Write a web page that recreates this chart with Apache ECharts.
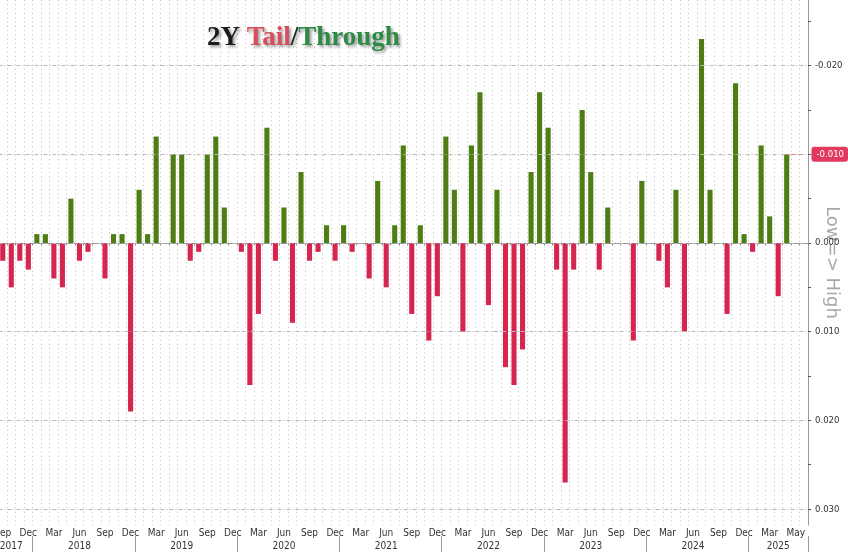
<!DOCTYPE html>
<html>
<head>
<meta charset="utf-8">
<script src="https://cdn.jsdelivr.net/npm/echarts@6/dist/echarts.min.js"></script>
<style>
html,body{margin:0;padding:0;background:#ffffff;}
#chart{width:848px;height:552px;}
</style>
</head>
<body>
<div id="chart"></div>
<script>
// Monthly 2Y auction categories (two trailing empty months give the right-hand margin)
const categories = [
  '2017-09','2017-10','2017-11','2017-12',
  '2018-01','2018-02','2018-03','2018-04','2018-05','2018-06','2018-07','2018-08','2018-09','2018-10','2018-11','2018-12',
  '2019-01','2019-02','2019-03','2019-04','2019-05','2019-06','2019-07','2019-08','2019-09','2019-10','2019-11','2019-12',
  '2020-01','2020-02','2020-03','2020-04','2020-05','2020-06','2020-07','2020-08','2020-09','2020-10','2020-11','2020-12',
  '2021-01','2021-02','2021-03','2021-04','2021-05','2021-06','2021-07','2021-08','2021-09','2021-10','2021-11','2021-12',
  '2022-01','2022-02','2022-03','2022-04','2022-05','2022-06','2022-07','2022-08','2022-09','2022-10','2022-11','2022-12',
  '2023-01','2023-02','2023-03','2023-04','2023-05','2023-06','2023-07','2023-08','2023-09','2023-10','2023-11','2023-12',
  '2024-01','2024-02','2024-03','2024-04','2024-05','2024-06','2024-07','2024-08','2024-09','2024-10','2024-11','2024-12',
  '2025-01','2025-02','2025-03','2025-04','2025-05','2025-06','2025-07'
];

// Tail (+) / stop-through (-), one value per monthly auction
const tailThrough = [
  0.002, 0.005, 0.002, 0.003,
  -0.001, -0.001, 0.004, 0.005, -0.005, 0.002, 0.001, 0, 0.004, -0.001, -0.001, 0.019,
  -0.006, -0.001, -0.012, 0, -0.010, -0.010, 0.002, 0.001, -0.010, -0.012, -0.004, 0,
  0.001, 0.016, 0.008, -0.013, 0.002, -0.004, 0.009, -0.008, 0.002, 0.001, -0.002, 0.002,
  -0.002, 0.001, 0, 0.004, -0.007, 0.005, -0.002, -0.011, 0.008, -0.002, 0.011, 0.006,
  -0.012, -0.006, 0.010, -0.011, -0.017, 0.007, -0.006, 0.014, 0.016, 0.012, -0.008, -0.017,
  -0.013, 0.003, 0.027, 0.003, -0.015, -0.008, 0.003, -0.004, 0, 0, 0.011, -0.007,
  0, 0.002, 0.005, -0.006, 0.010, 0, -0.023, -0.006, 0, 0.008, -0.018, -0.001,
  0.001, -0.011, -0.003, 0.006, -0.010
];

const yTickLabels = [-0.02, -0.01, 0, 0.01, 0.02, 0.03];
const yAllTicks = [-0.025, -0.02, -0.015, -0.01, -0.005, 0, 0.005, 0.01, 0.015, 0.02, 0.025, 0.03];
const monthNames = ['Jan','Feb','Mar','Apr','May','Jun','Jul','Aug','Sep','Oct','Nov','Dec'];
const monthLabelCats = ['2017-09','2017-12','2018-03','2018-06','2018-09','2018-12','2019-03','2019-06','2019-09','2019-12',
  '2020-03','2020-06','2020-09','2020-12','2021-03','2021-06','2021-09','2021-12','2022-03','2022-06','2022-09','2022-12',
  '2023-03','2023-06','2023-09','2023-12','2024-03','2024-06','2024-09','2024-12','2025-03','2025-05'];
const yearLabelCats = ['2017-10','2018-06','2019-06','2020-06','2021-06','2022-06','2023-06','2024-06','2025-04'];

const RED = '#d5264f';
const GREEN = '#4e7d14';
const lastIdx = tailThrough.length - 1;
const lastVal = tailThrough[lastIdx];
const lastCat = categories[lastIdx];

const chart = echarts.init(document.getElementById('chart'), null, {renderer: 'canvas'});
const shadow = {textShadowColor: 'rgba(0,0,0,0.4)', textShadowBlur: 3, textShadowOffsetX: 2, textShadowOffsetY: 2};
const axisFont = 'DejaVu Sans Condensed, Liberation Sans';
chart.setOption({
  backgroundColor: '#ffffff',
  animation: false,
  title: {
    text: '{a|2Y }{b|Tail}{a|/}{c|Through}',
    left: 202, top: 20,
    textStyle: {
      rich: {
        a: Object.assign({color: '#1c1c1c', fontSize: 27, fontWeight: 'bold', fontFamily: 'Liberation Serif'}, shadow),
        b: Object.assign({color: '#d6505c', fontSize: 27, fontWeight: 'bold', fontFamily: 'Liberation Serif'}, shadow),
        c: Object.assign({color: '#2e8a44', fontSize: 27, fontWeight: 'bold', fontFamily: 'Liberation Serif'}, shadow)
      }
    }
  },
  grid: {left: -1.5, right: 40, top: 0, bottom: 27, containLabel: false, outerBoundsMode: 'none'},
  xAxis: [
    {
      type: 'category', data: categories, boundaryGap: true, position: 'bottom',
      axisLine: {show: true, lineStyle: {color: '#8a8a8a', width: 1}},
      axisTick: {show: true, interval: 0, length: 2, lineStyle: {color: '#8a8a8a'}},
      axisLabel: {
        interval: (i, v) => monthLabelCats.indexOf(v) >= 0,
        hideOverlap: false,
        formatter: v => {
          const m = monthNames[parseInt(v.slice(5), 10) - 1];
          return v === lastCat ? '{p|' + m + '}' : m;
        },
        rich: {p: {padding: [0, 0, 0, 18], color: '#333', fontSize: 10, fontFamily: axisFont}},
        color: '#333', fontSize: 10, fontFamily: axisFont, margin: 3
      },
      splitLine: {show: true, interval: 0, lineStyle: {color: '#bdbdbd', type: [1, 3.3], width: 1}}
    },
    {
      type: 'category', data: categories, boundaryGap: true, position: 'bottom', offset: 11,
      axisLine: {show: false},
      axisTick: {show: true, length: 17, interval: (i, v) => v.slice(5) === '01', lineStyle: {color: '#9a9a9a'}},
      axisLabel: {
        interval: (i, v) => yearLabelCats.indexOf(v) >= 0,
        hideOverlap: false,
        formatter: v => v.slice(0, 4),
        color: '#333', fontSize: 10, fontFamily: axisFont, margin: 5
      },
      splitLine: {show: false}
    }
  ],
  yAxis: {
    type: 'value', position: 'right', inverse: true, min: -0.0274, max: 0.0318,
    name: 'Low=> High', nameLocation: 'middle', nameRotate: -90, nameGap: 15, nameMoveOverlap: false,
    nameTextStyle: {color: '#a8a8a8', fontSize: 18, fontFamily: 'DejaVu Sans'},
    axisLine: {show: true, lineStyle: {color: '#9a9a9a', width: 1}},
    axisTick: {show: true, customValues: yAllTicks, length: 3, lineStyle: {color: '#555'}},
    axisLabel: {customValues: yTickLabels, formatter: v => v.toFixed(3), color: '#333', fontSize: 9.5, fontFamily: axisFont, margin: 7},
    splitLine: {show: false},
    axisPointer: {
      show: true, type: 'line', value: lastVal, status: 'show', triggerTooltip: false,
      lineStyle: {opacity: 0},
      label: {show: true, formatter: p => Number(p.value).toFixed(3), backgroundColor: '#e23a5e', color: '#fff',
        fontSize: 9.5, fontFamily: axisFont, padding: [3, 4, 2, 5], borderRadius: 3, margin: 4}
    }
  },
  series: [{
    type: 'bar',
    data: tailThrough,
    barWidth: '60%',
    itemStyle: {color: p => (p.value > 0 ? RED : GREEN)},
    markLine: {
      silent: true, symbol: 'none', label: {show: false},
      lineStyle: {type: [4, 2, 1, 2], color: '#b8b8b8', width: 1},
      data: yTickLabels.map(v => ({yAxis: v})).concat([[
        {coord: [lastIdx, lastVal], lineStyle: {color: '#e77a90', type: [3, 3], width: 1}},
        {coord: [categories.length - 1, lastVal]}
      ]])
    }
  }]
});
</script>
</body>
</html>
